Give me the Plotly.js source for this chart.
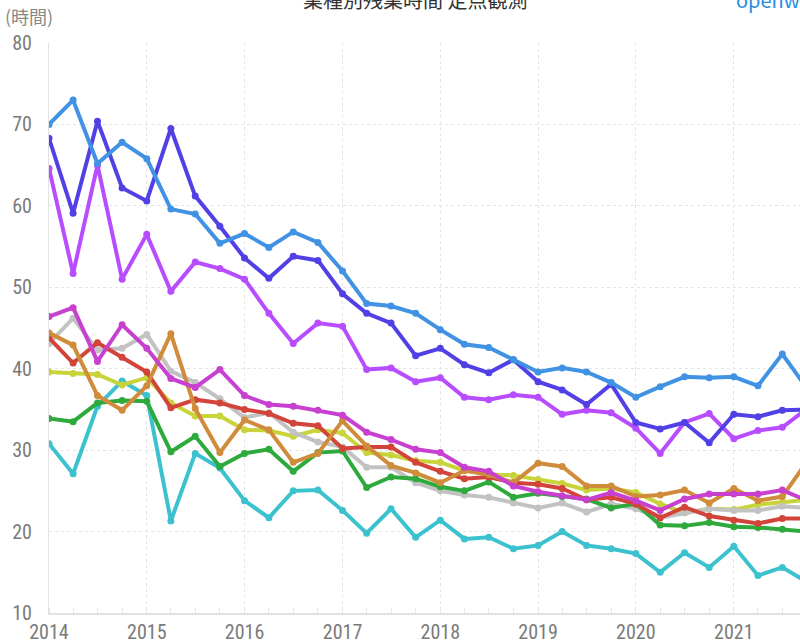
<!DOCTYPE html>
<html>
<head>
<meta charset="utf-8">
<script src="https://cdn.plot.ly/plotly-3.0.1.min.js"></script>
<style>
html,body{margin:0;padding:0;background:#fff;}
#chart{width:800px;height:643px;}
</style>
</head>
<body>
<div id="chart"></div>
<script>
const quarters = [
  "2014-01-01","2014-04-01","2014-07-01","2014-10-01",
  "2015-01-01","2015-04-01","2015-07-01","2015-10-01",
  "2016-01-01","2016-04-01","2016-07-01","2016-10-01",
  "2017-01-01","2017-04-01","2017-07-01","2017-10-01",
  "2018-01-01","2018-04-01","2018-07-01","2018-10-01",
  "2019-01-01","2019-04-01","2019-07-01","2019-10-01",
  "2020-01-01","2020-04-01","2020-07-01","2020-10-01",
  "2021-01-01","2021-04-01","2021-07-01","2021-10-01"
];
const yearTicks = ["2014","2015","2016","2017","2018","2019","2020","2021"];

const lightBlue = [70.0,73.0,65.2,67.8,65.8,59.6,59.0,55.4,56.6,54.9,56.8,55.5,52.0,48.0,47.7,46.8,44.8,43.0,42.6,41.1,39.6,40.1,39.6,38.3,36.5,37.8,39.0,38.9,39.0,37.9,41.8,37.6];
const indigo    = [68.3,59.1,70.4,62.2,60.6,69.5,61.2,57.5,53.6,51.1,53.8,53.3,49.2,46.8,45.6,41.6,42.5,40.5,39.5,41.1,38.4,37.4,35.6,38.1,33.4,32.6,33.4,30.9,34.4,34.1,34.9,35.0];
const purple    = [64.6,51.7,65.0,51.0,56.5,49.5,53.1,52.3,51.0,46.8,43.1,45.6,45.2,39.9,40.1,38.4,38.9,36.5,36.2,36.8,36.5,34.4,34.9,34.6,32.7,29.6,33.4,34.5,31.4,32.4,32.8,35.1];
const magenta   = [46.4,47.5,40.9,45.4,42.5,38.8,37.7,39.9,36.7,35.6,35.4,34.9,34.3,32.2,31.3,30.1,29.7,27.9,27.4,25.6,24.9,24.4,23.9,24.8,23.8,22.6,24.0,24.6,24.6,24.6,25.1,23.8];
const red       = [43.8,40.7,43.2,41.4,39.6,35.2,36.2,35.8,35.0,34.5,33.3,33.0,30.2,30.4,30.4,28.5,27.4,26.5,26.7,26.0,25.8,25.3,23.9,24.2,23.4,21.7,23.0,21.9,21.4,21.0,21.6,21.6];
const gray      = [43.1,46.2,42.3,42.5,44.2,39.7,38.3,36.3,34.0,34.6,32.2,31.0,30.4,27.9,27.9,26.0,25.0,24.5,24.2,23.5,22.9,23.5,22.4,23.4,22.8,21.7,22.3,22.8,22.6,22.6,23.1,22.9];
const orange    = [44.4,42.9,36.7,34.9,37.9,44.3,35.1,29.7,33.7,32.5,28.5,29.6,33.6,30.5,28.1,27.2,26.0,27.5,27.0,26.0,28.4,28.0,25.6,25.6,24.3,24.5,25.1,23.5,25.3,23.8,24.3,28.6];
const yellow    = [39.6,39.4,39.3,38.0,38.9,35.8,34.2,34.2,32.5,32.4,31.7,32.5,32.1,29.7,29.4,28.7,28.5,27.5,27.0,26.9,26.4,25.9,25.1,25.3,24.8,23.4,22.3,22.8,22.7,23.3,23.6,23.9];
const green     = [33.9,33.5,35.8,36.1,36.0,29.8,31.7,28.0,29.6,30.1,27.4,29.7,29.9,25.4,26.7,26.5,25.5,25.0,26.1,24.2,24.7,24.3,24.0,22.9,23.4,20.8,20.7,21.1,20.6,20.5,20.3,20.0];
const cyan      = [30.8,27.1,35.4,38.5,36.7,21.3,29.6,27.8,23.8,21.7,25.0,25.1,22.6,19.8,22.8,19.3,21.4,19.1,19.3,17.9,18.3,20.0,18.3,17.9,17.3,15.0,17.4,15.6,18.2,14.6,15.6,13.8];

const series = [
  {y: cyan, c: "#3cc2ce"},
  {y: yellow, c: "#c8d43a"},
  {y: gray, c: "#c2c2c2"},
  {y: green, c: "#2eaa3c"},
  {y: red, c: "#d2443a"},
  {y: orange, c: "#d08c3a"},
  {y: magenta, c: "#c840d0"},
  {y: purple, c: "#b84dff"},
  {y: indigo, c: "#5040e6"},
  {y: lightBlue, c: "#4192e3"}
];

const traces = series.map(s => ({
  type: "scatter",
  mode: "lines+markers",
  x: quarters,
  y: s.y,
  line: {color: s.c, width: 4},
  marker: {color: s.c, size: 7},
  showlegend: false,
  hoverinfo: "x+y"
}));

const tickFont = {family: "Liberation Sans Narrow, Roboto Condensed, Noto Sans, sans-serif", size: 20, color: "#7a7a7a"};

const layout = {
  width: 800,
  height: 643,
  margin: {l: 49, r: 0, t: 43, b: 30},
  paper_bgcolor: "#ffffff",
  plot_bgcolor: "#ffffff",
  font: {family: "Noto Sans CJK JP, Noto Sans, sans-serif", color: "#777"},
  xaxis: {
    type: "date",
    range: ["2014-01-01", "2021-09-05"],
    tickvals: yearTicks.map(y => y + "-01-01"),
    ticktext: yearTicks,
    tickfont: tickFont,
    showgrid: true,
    gridcolor: "#e4e4e4",
    griddash: "dot",
    gridwidth: 1,
    showline: true,
    linecolor: "#e2e2e2",
    linewidth: 2,
    ticks: "",
    minor: {dtick: "M3", ticks: "inside", ticklen: 5, tickcolor: "#e6e6e6", showgrid: false},
    zeroline: false,
    fixedrange: true
  },
  yaxis: {
    range: [10, 80],
    dtick: 10,
    tickfont: tickFont,
    showgrid: true,
    gridcolor: "#e4e4e4",
    griddash: "dot",
    gridwidth: 1,
    showline: true,
    linecolor: "#e2e2e2",
    linewidth: 1,
    ticks: "outside",
    ticklen: 12,
    tickcolor: "rgba(0,0,0,0)",
    zeroline: false
  },
  annotations: [
    {text: "(時間)", xref: "paper", yref: "paper", x: -49/751, y: 1, xanchor: "left", yanchor: "bottom", yshift: 12, xshift: 3,
     showarrow: false, font: {size: 18, color: "#888"}},
    {text: "業種別残業時間 定点観測", xref: "paper", yref: "paper", x: (415-49)/751, y: 1, xanchor: "center", yanchor: "middle", yshift: 44,
     showarrow: false, font: {size: 20, color: "#333"}},
    {text: "openwork", xref: "paper", yref: "paper", x: 1, y: 1, xanchor: "left", yanchor: "middle", yshift: 44, xshift: -66,
     showarrow: false, font: {size: 20, color: "#2a8ce0"}}
  ]
};

Plotly.newPlot("chart", traces, layout, {displayModeBar: false, staticPlot: true});
</script>
</body>
</html>
